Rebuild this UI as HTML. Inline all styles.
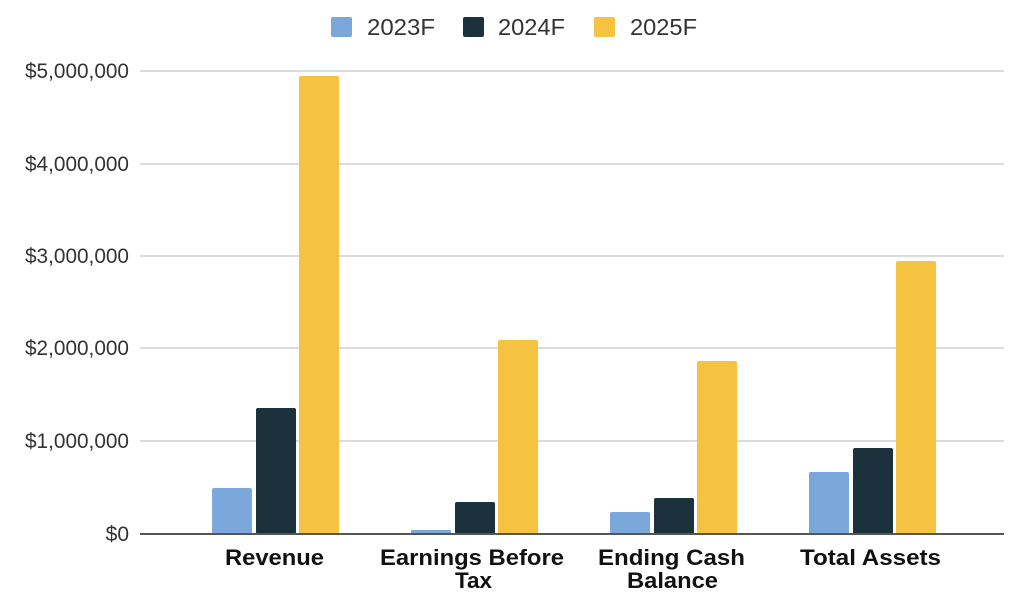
<!DOCTYPE html>
<html><head><style>body{margin:0;background:#fff}</style></head><body>
<svg width="1024" height="595" xmlns="http://www.w3.org/2000/svg" font-family="Liberation Sans, Arial, sans-serif">
<g fill="#333" font-size="23">
<rect x="331" y="17" width="21" height="20" rx="2" fill="#7ba7db"/><text x="367" y="35" textLength="68" lengthAdjust="spacingAndGlyphs">2023F</text>
<rect x="463" y="17" width="21" height="20" rx="2" fill="#1b323c"/><text x="498" y="35" textLength="67" lengthAdjust="spacingAndGlyphs">2024F</text>
<rect x="594" y="17" width="21" height="20" rx="2" fill="#f5c242"/><text x="630" y="35" textLength="67" lengthAdjust="spacingAndGlyphs">2025F</text>
</g>
<g stroke="#d0d0d0" stroke-width="1.5">
<line x1="140" x2="1004" y1="71" y2="71"/><line x1="140" x2="1004" y1="164" y2="164"/>
<line x1="140" x2="1004" y1="256" y2="256"/><line x1="140" x2="1004" y1="348" y2="348"/>
<line x1="140" x2="1004" y1="441" y2="441"/>
</g>
<g fill="#333" font-size="21">
<text x="25" y="78" textLength="104" lengthAdjust="spacingAndGlyphs">$5,000,000</text><text x="25" y="171" textLength="104" lengthAdjust="spacingAndGlyphs">$4,000,000</text>
<text x="25" y="263" textLength="104" lengthAdjust="spacingAndGlyphs">$3,000,000</text><text x="25" y="355" textLength="104" lengthAdjust="spacingAndGlyphs">$2,000,000</text>
<text x="25" y="448" textLength="104" lengthAdjust="spacingAndGlyphs">$1,000,000</text><text x="129" y="541" text-anchor="end">$0</text>
</g>
<g>
<rect x="212" y="488" width="40" height="46" rx="2" fill="#7ba7db"/>
<rect x="256" y="408" width="40" height="126" rx="2" fill="#1b323c"/>
<rect x="299" y="76" width="40" height="458" rx="2" fill="#f5c242"/>
<rect x="411" y="530" width="40" height="4" rx="1" fill="#7ba7db"/>
<rect x="455" y="502" width="40" height="32" rx="2" fill="#1b323c"/>
<rect x="498" y="340" width="40" height="194" rx="2" fill="#f5c242"/>
<rect x="610" y="512" width="40" height="22" rx="2" fill="#7ba7db"/>
<rect x="654" y="498" width="40" height="36" rx="2" fill="#1b323c"/>
<rect x="697" y="361" width="40" height="173" rx="2" fill="#f5c242"/>
<rect x="809" y="472" width="40" height="62" rx="2" fill="#7ba7db"/>
<rect x="853" y="448" width="40" height="86" rx="2" fill="#1b323c"/>
<rect x="896" y="261" width="40" height="273" rx="2" fill="#f5c242"/>
</g>
<line x1="140" x2="1004" y1="534" y2="534" stroke="#555" stroke-width="2"/>
<g fill="#111" font-size="22" font-weight="bold">
<text x="225" y="565" textLength="99" lengthAdjust="spacingAndGlyphs">Revenue</text>
<text x="380" y="565" textLength="184" lengthAdjust="spacingAndGlyphs">Earnings Before</text><text x="455" y="588" textLength="37" lengthAdjust="spacingAndGlyphs">Tax</text>
<text x="598" y="565" textLength="147" lengthAdjust="spacingAndGlyphs">Ending Cash</text><text x="627" y="588" textLength="91" lengthAdjust="spacingAndGlyphs">Balance</text>
<text x="800" y="565" textLength="141" lengthAdjust="spacingAndGlyphs">Total Assets</text>
</g>
</svg>
</body></html>
